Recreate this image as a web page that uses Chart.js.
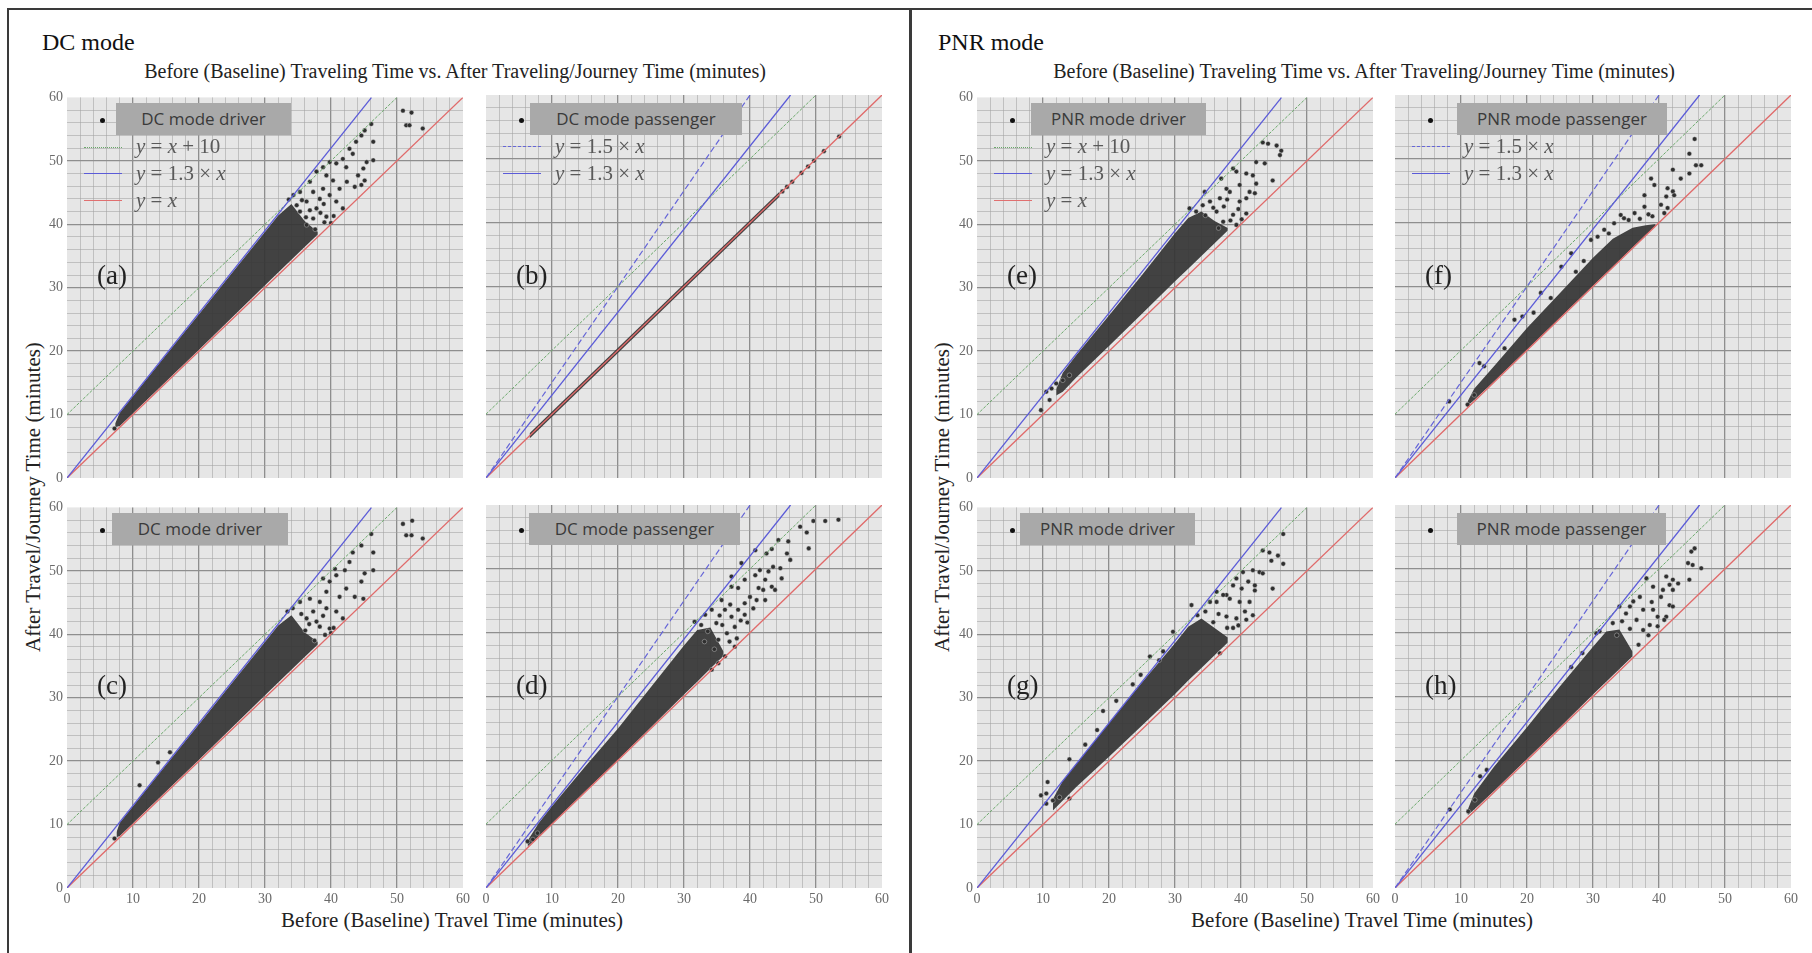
<!DOCTYPE html>
<html>
<head>
<meta charset="utf-8">
<script src="https://cdn.jsdelivr.net/npm/chart.js@4.4.1/dist/chart.umd.min.js"></script>
<style>
  body { margin: 0; background: #fff; width: 1812px; height: 953px; overflow: hidden; position: relative; font-family: 'Liberation Serif', serif; }
  .abs { position: absolute; }
  .box { position: absolute; border: 2px solid #3a3a3a; }
  .title { position: absolute; font-size: 24px; line-height: 24px; color: #111; }
  .sub { position: absolute; width: 900px; text-align: center; font-size: 20px; line-height: 20px; color: #222; white-space: nowrap; }
  .xt { position: absolute; width: 600px; text-align: center; font-size: 21px; line-height: 21px; color: #222; white-space: nowrap; }
  .yt { position: absolute; font-size: 21px; line-height: 21px; color: #222; white-space: nowrap; transform: translate(-50%, -50%) rotate(-90deg); }
  .lbox { position: absolute; height: 32px; background: #a9a9a9; color: #3a3a3a; font-family: 'Open Sans', sans-serif; font-size: 17px; line-height: 32px; text-align: center; white-space: nowrap; }
  .dot { position: absolute; width: 5px; height: 5px; border-radius: 50%; background: #111; }
  .lline { position: absolute; width: 38px; height: 0; }
  .ltxt { position: absolute; font-size: 21px; line-height: 21px; color: #5a5a5a; white-space: nowrap; }
  .letter { position: absolute; font-size: 27px; line-height: 27px; color: #222; }
</style>
</head>
<body>
<div class="box" style="left:7px; top:8px; width:901px; height:980px;"></div>
<div class="box" style="left:909px; top:8px; width:940px; height:980px;"></div>

<div class="title" style="left:42px; top:30px;">DC mode</div>
<div class="title" style="left:938px; top:30px;">PNR mode</div>
<div class="sub" style="left:5px; top:61px;">Before (Baseline) Traveling Time vs. After Traveling/Journey Time (minutes)</div>
<div class="sub" style="left:914px; top:61px;">Before (Baseline) Traveling Time vs. After Traveling/Journey Time (minutes)</div>
<div class="xt" style="left:152px; top:910px;">Before (Baseline) Travel Time (minutes)</div>
<div class="xt" style="left:1062px; top:910px;">Before (Baseline) Travel Time (minutes)</div>
<div class="yt" style="left:33px; top:497px;">After Travel/Journey Time (minutes)</div>
<div class="yt" style="left:942px; top:497px;">After Travel/Journey Time (minutes)</div>

<div id="plots"></div>

<script>
// axis settings
const axisMin = 0;
const axisMax = 60;
const majorStep = 10;
const minorStep = 2;

// reference lines (end points)
const lineYeqX = [[0, 0], [60, 60]];
const lineY13x = [[0, 0], [46.15, 60]];
const lineY15x = [[0, 0], [40, 60]];
const lineYx10 = [[0, 10], [50, 60]];

// dense cores: x, lower edge, upper edge
const bandAX  = [7.3, 8, 10, 15, 20, 25, 30, 32, 34, 36, 38];
const bandALo = [8.0, 8.2, 10.2, 15.2, 20.2, 25.3, 30.4, 32.4, 34.4, 36.4, 38.4];
const bandAHi = [8.6, 10.3, 12.9, 19.4, 25.8, 32.3, 38.8, 41.4, 43.2, 40.5, 38.8];

const bandBX  = [6.6, 44.5];
const bandBLo = [6.2, 44.1];
const bandBHi = [7.0, 44.9];

const bandCX  = [7.5, 8, 10, 15, 20, 25, 30, 32, 34, 36, 38];
const bandCLo = [8.0, 8.2, 10.2, 15.2, 20.2, 25.3, 30.4, 32.4, 34.4, 36.4, 38.4];
const bandCHi = [8.8, 10.3, 12.9, 19.4, 25.8, 32.3, 38.8, 41.4, 43.0, 40.3, 38.8];

const bandDX  = [6.3, 8, 10, 15, 20, 25, 30, 32, 34, 36];
const bandDLo = [6.5, 8.1, 10.1, 15.1, 20.1, 25.2, 30.3, 32.3, 34.4, 36.4];
const bandDHi = [7.4, 10.2, 12.8, 19.0, 25.0, 31.5, 38.0, 40.4, 40.8, 37.0];

const bandEX  = [12, 13, 15, 20, 25, 30, 32, 34, 36, 38];
const bandELo = [13.0, 13.6, 15.8, 20.8, 25.9, 31.0, 33.0, 35.0, 37.0, 39.0];
const bandEHi = [14.0, 16.6, 19.3, 25.6, 32.0, 38.6, 41.0, 42.0, 40.5, 39.4];

const bandFX  = [11, 12, 15, 20, 25, 30, 33, 36, 38, 39.5];
const bandFLo = [11.3, 12.2, 15.1, 20.1, 25.1, 30.1, 33.1, 36.1, 38.1, 39.5];
const bandFHi = [12.0, 14.0, 17.5, 23.5, 29.0, 34.5, 37.5, 39.2, 39.6, 39.8];

const bandGX  = [11.5, 13, 15, 20, 25, 30, 32, 34, 36, 38];
const bandGLo = [12.2, 13.8, 15.9, 20.7, 25.6, 30.6, 32.7, 34.7, 36.7, 38.7];
const bandGHi = [14.0, 16.9, 19.5, 26.0, 32.4, 38.6, 41.2, 42.5, 41.0, 39.5];

const bandHX  = [11, 12, 15, 20, 25, 30, 32, 34, 36];
const bandHLo = [11.4, 12.3, 15.2, 20.2, 25.2, 30.3, 32.3, 34.3, 36.3];
const bandHHi = [12.2, 14.8, 19.0, 25.2, 31.6, 37.8, 40.2, 40.5, 37.0];

// sparse points (before, after)
const ptsA = [[50.9,57.9],[52.2,57.6],[51.4,55.6],[51.9,55.6],[53.9,55.1],[46.1,55.8],[45.1,54.8],[44.6,54.0],[46.4,53.0],[43.8,53.0],
  [42.8,51.9],[43.3,51.1],[46.4,50.1],[45.4,49.8],[41.8,50.3],[42.3,49.0],[40.8,49.6],[44.9,48.8],[44.1,47.7],[45.1,46.9],
  [43.6,45.9],[44.6,46.2],[42.4,46.7],[41.3,45.6],[40.3,46.9],[39.3,47.7],[38.8,45.6],[39.8,44.6],[40.8,43.6],[41.8,42.5],
  [38.3,44.0],[37.3,45.1],[36.3,43.6],[37.8,42.5],[39.3,41.2],[40.0,40.2],[35.3,45.1],[34.3,44.6],[36.8,46.7],[37.8,48.3],
  [38.8,49.0],[39.8,49.8],[35.3,42.0],[37.3,40.9],[36.3,39.9],[7.2,7.8],
  [36.8,42.2],[38.4,41.8],[39.0,40.3],[37.6,39.2],[35.6,43.8],[34.8,43.0],[38.9,43.2],[36.2,41.1],[33.6,43.9],[40.4,41.3]];

const ptsB = [[44.9,44.9],[45.6,45.6],[46.4,46.4],[47.8,47.8],[48.8,48.8],[49.7,49.7],[51.2,51.2],[53.5,53.5]];

const ptsC = [[11.0,16.2],[13.8,19.8],[15.6,21.4],[46.1,55.8],[46.4,52.9],[50.9,57.4],[52.3,57.9],[51.4,55.6],[52.2,55.6],[53.9,55.1],
  [44.6,54.0],[43.3,52.9],[42.8,51.4],[42.1,50.1],[45.1,49.6],[46.4,50.1],[40.6,50.3],[40.8,49.3],[44.6,48.3],[43.6,45.9],
  [44.9,45.6],[42.3,47.2],[41.3,45.9],[39.3,46.7],[38.3,45.1],[39.3,44.1],[40.8,43.6],[41.8,42.5],[39.8,40.9],[40.0,40.2],
  [37.3,43.6],[36.3,42.5],[37.8,42.0],[35.3,45.1],[34.2,44.1],[36.8,45.6],[38.8,48.8],[39.8,48.3],[7.2,7.8],
  [36.7,41.6],[38.3,41.2],[39.1,39.9],[37.5,39.0],[35.5,43.2],[38.8,42.9],[36.1,40.6],[33.4,43.6],[40.4,41.0]];

const ptsD = [[53.4,57.7],[51.4,57.5],[49.6,57.5],[47.6,56.6],[48.6,55.7],[48.9,53.2],[45.8,54.3],[44.3,54.5],[43.3,53.1],[42.5,52.4],
  [45.6,52.4],[46.1,51.4],[44.6,50.1],[43.5,50.3],[44.8,48.5],[42.8,49.6],[41.5,49.8],[40.8,49.0],[42.3,48.3],[43.3,47.2],
  [43.8,46.7],[42.0,46.7],[41.3,47.0],[39.2,48.3],[38.2,47.0],[37.2,47.2],[40.0,45.6],[41.0,45.1],[42.3,45.1],[39.2,44.6],
  [38.2,43.6],[40.5,43.8],[39.2,42.8],[37.2,42.5],[35.7,45.1],[36.2,43.6],[37.7,40.9],[38.0,39.1],[37.7,37.8],[36.2,36.3],
  [34.2,34.2],[35.2,35.2],[40.8,52.9],[38.7,50.9],[37.2,48.8],[34.2,43.6],[33.2,42.8],[31.6,41.7],[34.9,41.5],[36.5,39.9],
  [35.2,38.9],[6.3,7.3],[7.1,7.6],[7.8,8.6],
  [33.6,40.2],[35.8,41.2],[36.9,38.6],[34.6,37.4],[33.1,38.6],[37.0,44.4],[39.6,41.6],[35.4,42.7],[32.6,41.2],[38.6,41.9]];

const ptsE = [[43.3,52.9],[44.1,52.7],[45.4,52.4],[46.1,51.6],[45.9,50.9],[44.8,46.9],[42.3,49.8],[43.6,49.6],[39.3,48.3],[38.8,48.8],
  [40.8,48.0],[41.8,47.7],[42.3,46.4],[41.3,45.1],[42.1,44.9],[39.8,46.2],[38.3,45.1],[37.0,47.2],[37.8,45.6],[40.8,44.1],
  [39.8,43.6],[36.8,44.1],[35.3,43.6],[34.2,43.0],[33.2,42.0],[36.3,42.0],[38.8,41.5],[40.8,41.7],[37.3,40.4],[39.3,39.9],
  [34.5,45.1],[32.2,42.5],[9.7,10.7],[10.5,13.6],[11.3,14.1],[12.0,14.9],[11.0,12.3],[13.0,15.4],[14.0,16.2],
  [35.8,42.6],[37.4,42.8],[38.4,40.6],[36.6,39.4],[39.6,42.4],[34.6,41.4],[37.9,43.9],[40.1,40.8]];

const ptsF = [[45.4,53.1],[44.6,50.8],[45.6,49.0],[46.4,49.0],[42.1,48.3],[43.3,46.9],[44.6,47.7],[38.8,46.9],[39.3,45.9],[37.8,44.3],
  [41.3,45.4],[42.1,44.9],[42.3,44.3],[41.1,44.1],[40.3,42.8],[41.3,42.3],[40.8,41.5],[37.8,42.5],[39.0,41.0],[36.3,41.5],
  [34.2,41.2],[34.7,40.7],[33.2,39.9],[31.7,38.9],[30.7,37.8],[29.7,37.3],[26.7,35.2],[25.2,33.1],[22.1,29.0],[19.3,25.3],
  [18.1,24.8],[13.5,17.5],[12.8,18.0],[8.2,12.0],[11.0,11.5],[12.0,13.0],
  [35.4,40.4],[37.1,40.6],[32.4,38.3],[28.6,34.0],[27.4,32.3],[23.6,28.2],[21.0,25.9],[16.6,20.3],[38.4,41.3]];

const ptsG = [[10.5,14.9],[9.7,14.6],[10.7,16.7],[10.5,13.3],[11.5,13.8],[12.5,14.3],[14.0,14.1],[14.0,20.3],[19.1,27.9],[21.1,29.5],
  [23.6,32.1],[26.2,36.5],[28.2,37.3],[29.7,40.4],[32.5,44.6],[36.3,46.7],[37.8,46.2],[46.4,55.8],[43.3,53.2],[44.3,52.9],
  [45.6,52.4],[46.4,51.1],[44.6,51.6],[41.8,50.1],[42.8,49.8],[43.3,49.6],[40.3,49.8],[39.3,48.8],[41.1,48.3],[42.1,47.7],
  [42.1,46.9],[44.8,47.2],[40.1,47.2],[38.8,47.7],[37.3,46.2],[38.3,45.6],[39.8,45.1],[41.3,45.1],[40.6,43.6],[41.8,43.0],
  [40.8,42.3],[39.3,42.5],[37.8,42.8],[36.8,37.0],[38.8,41.0],[36.3,45.1],[35.3,45.1],
  [34.6,43.6],[36.6,43.2],[37.9,41.0],[39.6,41.4],[35.8,41.9],[33.4,43.0],[16.4,22.6],[18.2,24.9],[24.8,33.6],[27.6,35.9]];

const ptsH = [[44.9,52.7],[45.4,53.2],[44.4,50.9],[45.1,50.6],[46.4,50.1],[44.6,48.3],[41.1,48.8],[42.1,48.3],[41.6,47.5],[42.9,47.7],
  [40.6,46.7],[42.1,46.7],[40.3,45.6],[41.6,44.3],[42.1,44.1],[41.1,42.5],[40.8,42.0],[39.1,47.2],[38.1,48.5],[37.1,45.6],
  [36.1,44.9],[35.6,44.1],[37.6,43.6],[39.1,43.6],[39.8,42.5],[38.6,41.2],[39.8,41.0],[35.0,43.0],[34.0,44.1],[33.0,41.5],
  [31.0,40.2],[30.5,39.9],[8.3,12.3],[11.1,12.0],[12.9,17.5],[13.9,18.5],[12.1,13.8],
  [36.6,42.0],[37.6,40.4],[38.4,39.6],[35.6,40.6],[36.9,38.1],[34.4,41.8],[33.6,39.6],[38.9,44.8],[26.7,34.6],[28.4,36.8]];

const driverLegend = [
  { color: '#6aa86a', style: 'dotted', width: 1, html: '<i>y</i> = <i>x</i> + 10' },
  { color: '#5b5bd8', style: 'solid', width: 1.5, html: '<i>y</i> = 1.3 × <i>x</i>' },
  { color: '#e07070', style: 'solid', width: 1.5, html: '<i>y</i> = <i>x</i>' }
];
const passengerLegend = [
  { color: '#6666d8', style: 'dashed', width: 1.5, html: '<i>y</i> = 1.5 × <i>x</i>' },
  { color: '#5b5bd8', style: 'solid', width: 1.5, html: '<i>y</i> = 1.3 × <i>x</i>' }
];

const panels = [
  { letter: '(a)', left: 67,   top: 95,  kind: 'driver',    label: 'DC mode driver',     boxL: 49, boxW: 175, band: [bandAX, bandALo, bandAHi], pts: ptsA, yTicks: true,  xTicks: false, legend: driverLegend },
  { letter: '(b)', left: 486,  top: 95,  kind: 'passenger', label: 'DC mode passenger',  boxL: 44, boxW: 212, band: [bandBX, bandBLo, bandBHi], pts: ptsB, yTicks: false, xTicks: false, legend: passengerLegend },
  { letter: '(c)', left: 67,   top: 505, kind: 'driver',    label: 'DC mode driver',     boxL: 45, boxW: 176, band: [bandCX, bandCLo, bandCHi], pts: ptsC, yTicks: true,  xTicks: true,  legend: null },
  { letter: '(d)', left: 486,  top: 505, kind: 'passenger', label: 'DC mode passenger',  boxL: 43, boxW: 211, band: [bandDX, bandDLo, bandDHi], pts: ptsD, yTicks: false, xTicks: true,  legend: null },
  { letter: '(e)', left: 977,  top: 95,  kind: 'driver',    label: 'PNR mode driver',    boxL: 54, boxW: 175, band: [bandEX, bandELo, bandEHi], pts: ptsE, yTicks: true,  xTicks: false, legend: driverLegend },
  { letter: '(f)', left: 1395, top: 95,  kind: 'passenger', label: 'PNR mode passenger', boxL: 62, boxW: 210, band: [bandFX, bandFLo, bandFHi], pts: ptsF, yTicks: false, xTicks: false, legend: passengerLegend },
  { letter: '(g)', left: 977,  top: 505, kind: 'driver',    label: 'PNR mode driver',    boxL: 43, boxW: 175, band: [bandGX, bandGLo, bandGHi], pts: ptsG, yTicks: true,  xTicks: true,  legend: null },
  { letter: '(h)', left: 1395, top: 505, kind: 'passenger', label: 'PNR mode passenger', boxL: 62, boxW: 209, band: [bandHX, bandHLo, bandHHi], pts: ptsH, yTicks: false, xTicks: true,  legend: null }
];

const plotW = 396, plotH = 383;
const padL = 32, padT = 10, padR = 10, padB = 24;

const toXY = arr => arr.map(p => ({ x: p[0], y: p[1] }));

const gridColor = ctx => {
  const v = ctx.tick ? ctx.tick.value : 0;
  if (v === axisMin || v === axisMax) return 'rgba(0,0,0,0)';
  return v % majorStep === 0 ? '#8e8e8e' : 'rgba(160,160,160,0.55)';
};
const gridWidth = ctx => {
  const v = ctx.tick ? ctx.tick.value : 0;
  return v % majorStep === 0 ? 1.3 : 1;
};

const plotBg = {
  id: 'plotBg',
  beforeDraw(chart) {
    const a = chart.chartArea;
    chart.ctx.save();
    chart.ctx.fillStyle = '#e6e6e6';
    chart.ctx.fillRect(a.left, a.top, a.right - a.left, a.bottom - a.top);
    chart.ctx.restore();
  }
};

function refLine(data, color, dash, width) {
  return {
    type: 'line', data: toXY(data), borderColor: color, borderWidth: width,
    borderDash: dash, pointRadius: 0, fill: false, tension: 0
  };
}

const host = document.getElementById('plots');

panels.forEach(p => {
  const canvas = document.createElement('canvas');
  canvas.width = padL + plotW + padR;
  canvas.height = padT + plotH + padB;
  canvas.className = 'abs';
  canvas.style.left = (p.left - padL) + 'px';
  canvas.style.top = (p.top - padT) + 'px';
  host.appendChild(canvas);

  const [bx, blo, bhi] = p.band;
  const lines = [];
  if (p.kind === 'passenger') {
    lines.push(refLine(lineY15x, '#6666d8', [6, 3], 1.2));
  }
  lines.push(refLine(lineY13x, '#5b5bd8', [], 1.3));
  lines.push(refLine(lineYx10, '#6aa86a', [3, 1.5], 1));
  lines.push(refLine(lineYeqX, '#e06a6a', [], 1.3));

  const datasets = lines.concat([
    {
      type: 'scatter', data: toXY(p.pts), pointRadius: 2.3,
      pointBackgroundColor: '#2f2f2f', pointBorderColor: 'rgba(210,210,210,0.7)', pointBorderWidth: 0.6
    },
    {
      type: 'line', data: bx.map((x, i) => ({ x: x, y: bhi[i] })), borderWidth: 0, pointRadius: 0,
      fill: '+1', backgroundColor: 'rgba(52,52,52,0.92)', tension: 0
    },
    {
      type: 'line', data: bx.map((x, i) => ({ x: x, y: blo[i] })), borderWidth: 0, pointRadius: 0,
      fill: false, tension: 0
    }
  ]);

  new Chart(canvas, {
    type: 'scatter',
    data: { datasets: datasets },
    options: {
      responsive: false,
      animation: false,
      devicePixelRatio: 1,
      layout: { padding: { left: 0, top: padT, right: padR, bottom: 0 } },
      plugins: { legend: { display: false }, tooltip: { enabled: false } },
      scales: {
        x: {
          type: 'linear', min: axisMin, max: axisMax,
          afterFit: s => { s.height = padB; },
          border: { display: false },
          grid: { color: gridColor, lineWidth: gridWidth, drawTicks: false },
          ticks: {
            display: p.xTicks, stepSize: minorStep, autoSkip: false, maxRotation: 0, padding: 3,
            color: '#6a6a6a', font: { family: 'Liberation Serif', size: 14 },
            callback: v => (v % majorStep === 0 ? String(v) : '')
          }
        },
        y: {
          type: 'linear', min: axisMin, max: axisMax,
          afterFit: s => { s.width = padL; },
          border: { display: false },
          grid: { color: gridColor, lineWidth: gridWidth, drawTicks: false },
          ticks: {
            display: p.yTicks, stepSize: minorStep, autoSkip: false, padding: 4,
            color: '#6a6a6a', font: { family: 'Liberation Serif', size: 14 },
            callback: v => (v % majorStep === 0 ? String(v) : '')
          }
        }
      }
    },
    plugins: [plotBg]
  });

  // legend box and symbol
  const box = document.createElement('div');
  box.className = 'lbox';
  box.style.left = (p.left + p.boxL) + 'px';
  box.style.top = (p.top + 8) + 'px';
  box.style.width = p.boxW + 'px';
  box.textContent = p.label;
  host.appendChild(box);

  const dot = document.createElement('div');
  dot.className = 'dot';
  dot.style.left = (p.left + 33) + 'px';
  dot.style.top = (p.top + 23) + 'px';
  host.appendChild(dot);

  if (p.legend) {
    p.legend.forEach((e, i) => {
      const cy = p.top + 52 + i * 27;
      const ln = document.createElement('div');
      ln.className = 'lline';
      ln.style.left = (p.left + 17) + 'px';
      ln.style.top = (cy - e.width / 2) + 'px';
      ln.style.borderTop = e.width + 'px ' + e.style + ' ' + e.color;
      host.appendChild(ln);
      const tx = document.createElement('div');
      tx.className = 'ltxt';
      tx.style.left = (p.left + 69) + 'px';
      tx.style.top = (cy - 11) + 'px';
      tx.innerHTML = e.html;
      host.appendChild(tx);
    });
  }

  const letter = document.createElement('div');
  letter.className = 'letter';
  letter.style.left = (p.left + 30) + 'px';
  letter.style.top = (p.top + 167) + 'px';
  letter.textContent = p.letter;
  host.appendChild(letter);
});
</script>
</body>
</html>
